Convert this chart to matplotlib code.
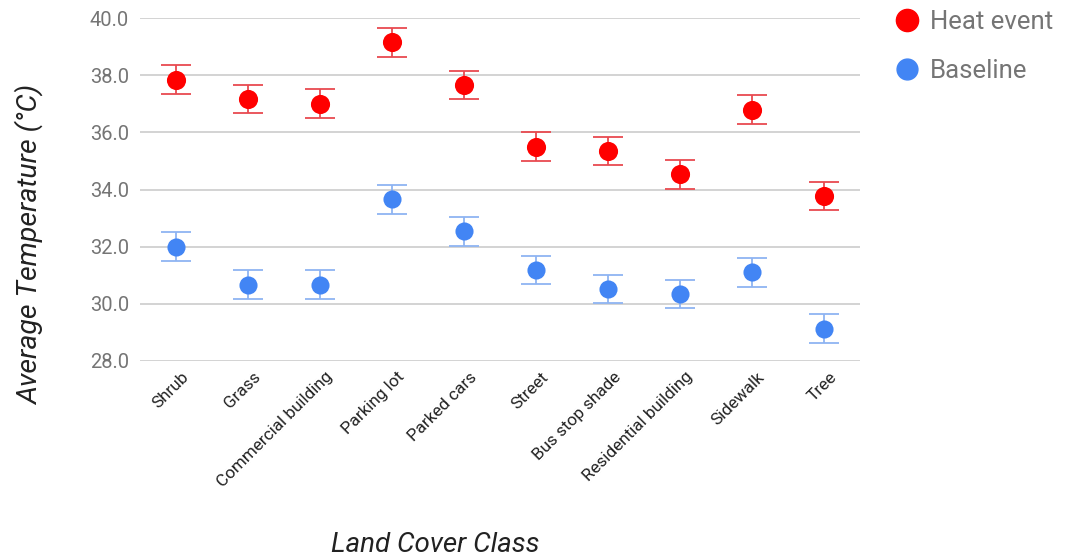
import matplotlib
matplotlib.use("Agg")
import matplotlib.pyplot as plt
from matplotlib.lines import Line2D
from matplotlib.transforms import ScaledTranslation

plt.rcParams['font.family'] = ['Roboto', 'DejaVu Sans']

categories = ["Shrub", "Grass", "Commercial building", "Parking lot", "Parked cars",
              "Street", "Bus stop shade", "Residential building", "Sidewalk", "Tree"]
heat_event = [37.84, 37.17, 37.00, 39.15, 37.66, 35.50, 35.34, 34.53, 36.79, 33.77]
baseline = [32.00, 30.67, 30.67, 33.66, 32.54, 31.18, 30.52, 30.35, 31.10, 29.13]
heat_err = [0.5] * len(categories)
base_err = [0.5] * len(categories)
y_ticks = [28.0, 30.0, 32.0, 34.0, 36.0, 38.0, 40.0]

RED = "#ff0000"
RED_ERR = "#e84a50"
BLUE = "#4285f4"
BLUE_ERR = "#8fb4f2"
GRID = "#cccccc"

W, H = 1067, 558
fig = plt.figure(figsize=(W / 100, H / 100), dpi=100)
ax = fig.add_axes([140 / W, 1 - 361 / H, 720 / W, 343 / H])

x = list(range(len(categories)))
ax.errorbar(x, heat_event, yerr=heat_err, fmt='none', ecolor=RED_ERR,
            elinewidth=1.3, capsize=11, capthick=1.3, zorder=3)
ax.errorbar(x, baseline, yerr=base_err, fmt='none', ecolor=BLUE_ERR,
            elinewidth=1.3, capsize=11, capthick=1.3, zorder=3)
ax.scatter(x, heat_event, s=190, color=RED, zorder=4, linewidths=0)
ax.scatter(x, baseline, s=170, color=BLUE, zorder=4, linewidths=0)

ax.set_xlim(-0.5, len(categories) - 0.5)
ax.set_ylim(28, 40)
ax.set_yticks(y_ticks)
ax.set_yticklabels([f"{v:.1f}" for v in y_ticks], fontsize=14.5, color="#757575")
ax.yaxis.grid(True, color=GRID, linewidth=1.2)
ax.set_axisbelow(True)
ax.tick_params(axis='y', length=0, pad=8)
ax.tick_params(axis='x', length=0, pad=6)
for s in ax.spines.values():
    s.set_visible(False)

ax.set_xticks(x)
ax.set_xticklabels(categories, rotation=45, ha='right', va='top',
                   rotation_mode='anchor', fontsize=12.3, color="#222222")
for lbl in ax.get_xticklabels():
    lbl.set_transform(lbl.get_transform() +
                      ScaledTranslation(5 / 100, 0, fig.dpi_scale_trans))

fig.text(30 / W, 1 - 245 / H, "Average Temperature (°C)", rotation=90,
         ha='center', va='center', fontsize=20.5, style='italic', color="#222222")
fig.text(435 / W, 1 - 545 / H, "Land Cover Class", ha='center', va='center',
         fontsize=20, style='italic', color="#222222")

handles = [Line2D([], [], marker='o', linestyle='none', markersize=16, color=RED),
           Line2D([], [], marker='o', linestyle='none', markersize=15, color=BLUE)]
fig.legend(handles, ["Heat event", "Baseline"], loc='upper left',
           bbox_to_anchor=(881 / W, 1 - 0 / H), frameon=False, fontsize=18.5,
           labelcolor="#757575", handletextpad=0.3, labelspacing=0.95,
           handlelength=1.2, borderaxespad=0)

fig.savefig("out.png", dpi=100, facecolor="white")
